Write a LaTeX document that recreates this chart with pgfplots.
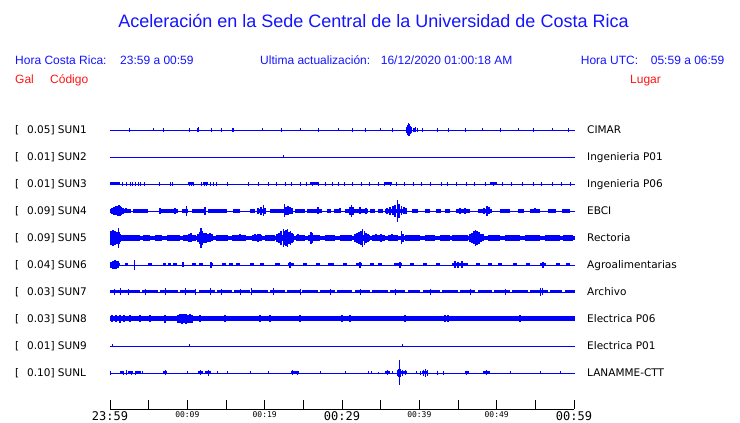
\documentclass[border=0pt]{standalone}
\usepackage{pgfplots}
\pgfplotsset{compat=1.18}
\usepackage{fontspec}
\setmainfont{DejaVu Sans}
\newfontfamily\hdr{Liberation Sans}
\newfontfamily\monof{DejaVu Sans Mono}
\definecolor{tblue}{RGB}{0,0,255}
\definecolor{hblue}{RGB}{20,20,255}
\definecolor{hred}{RGB}{255,20,20}
\newcommand\bigt[1]{{\fontsize{12}{12}\selectfont #1}}
\newcommand\smt[1]{{\fontsize{8}{8}\selectfont #1}}
\pgfplotsset{
  spk/.style={draw=none, mark=none, forget plot,
    error bars/y dir=both, error bars/y explicit, error bars/error mark=none,
    error bars/error bar style={draw=tblue, solid, line width=#1}},
  spk/.default=0.9pt,
  dsh/.style={draw=none, mark=none, forget plot,
    error bars/x dir=both, error bars/x explicit, error bars/error mark=none,
    error bars/error bar style={draw=tblue, solid, line width=#1}},
  base/.style={tblue, line width=#1, no marks},
}
\begin{document}
\begin{tikzpicture}
\useasboundingbox (0,0) rectangle (740pt,423pt);
\begin{axis}[
  at={(110pt,14pt)}, anchor=south west, scale only axis,
  width=464pt, height=299pt,
  xmin=0, xmax=60, ymin=14, ymax=313,
  axis x line=bottom, axis y line=none,
  axis line style={-, black, line width=0.9pt},
  xtick={0,5,...,60},
  xticklabels={\bigt{23:59},{},\smt{00:09},{},\smt{00:19},{},\bigt{00:29},{},\smt{00:39},{},\smt{00:49},{},\bigt{00:59}},
  xtick align=inside, major tick length=9pt,
  tick style={black, line width=0.9pt},
  xticklabel style={font=\monof, anchor=north, inner sep=0pt, yshift=-2pt},
  clip=false,
]
% ---------------- SUN1 (CIMAR) y=293
\addplot[base=0.9pt] coordinates {(0,293) (60.13,293)};
\addplot[dsh=4pt] table[x=t, y expr=293, x error=w, row sep=\\] {t w\\ 38.54 0.3\\ 39.44 0.15\\};
\addplot[spk] table[x=t, y expr=293, y error=a, row sep=\\] {t a\\
2.55 2\\ 5.56 1.5\\ 6.85 2\\ 10.22 2\\ 11.25 2\\ 11.44 2.5\\ 13.06 2\\ 14.35 2\\ 15.78 2\\ 15.97 2\\
19.66 1.5\\ 22.11 2\\ 24.57 1.5\\ 26.90 2\\ 29.48 1.5\\ 31.29 2\\ 32.97 2\\ 34.91 1.5\\ 36.47 2\\
38.29 3\\ 38.41 5\\ 38.54 6.5\\ 38.67 6\\ 38.79 4\\ 38.92 3\\ 39.18 2\\ 39.44 2.5\\ 39.70 2\\
40.44 2\\ 42.29 2\\ 43.71 2\\ 45.91 2\\ 48.10 1.5\\ 50.43 2\\ 52.76 1.5\\ 54.70 2\\ 57.16 1.5\\ 59.22 2\\};
% ---------------- SUN2 (Ingenieria P01) y=266
\addplot[base=0.9pt] coordinates {(0,266) (60.13,266)};
\addplot[spk] table[x=t, y expr=266, y error=a, row sep=\\] {t a\\ 22.37 1.5\\};
% ---------------- SUN3 (Ingenieria P06) y=239
\addplot[base=0.9pt] coordinates {(0,239) (60.13,239)};
\addplot[dsh=3pt] table[x=t, y expr=239, x error=w, row sep=\\] {t w\\
0.65 0.65\\ 10.47 0.32\\ 12.35 0.26\\ 26.38 0.5\\ 35.95 0.5\\ 49.59 0.45\\};
\addplot[spk] table[x=t, y expr=239, y error=a, row sep=\\] {t a\\
1.55 2\\ 2.07 2\\ 2.59 2\\ 2.94 2\\ 3.23 2\\ 3.62 2\\ 3.97 2\\ 4.40 2\\ 6.34 2\\ 7.76 2\\ 8.11 2\\
10.22 2\\ 10.57 2\\ 10.77 2\\ 11.77 2\\ 12.16 2\\ 12.50 2\\ 13.02 2\\ 13.36 2\\ 13.71 2\\ 15.22 2\\ 17.85 2\\
19.14 2\\ 20.43 2\\ 21.47 2\\ 22.63 2\\ 23.41 2\\ 24.57 2\\ 25.35 2\\ 26.12 2\\ 26.90 2\\ 27.80 2\\
28.71 2\\ 29.48 2\\ 30.26 2\\ 31.29 2\\ 32.46 2\\ 33.49 2\\ 34.66 2\\ 35.43 2\\ 36.21 2\\ 36.98 2\\
38.02 2\\ 39.18 2\\ 40.22 2\\ 41.38 2\\ 42.80 2\\ 43.58 2\\ 44.74 2\\ 46.04 2\\ 47.07 2\\ 48.49 2\\
49.53 2\\ 50.69 2\\ 51.86 2\\ 53.28 2\\ 54.70 2\\ 55.73 2\\ 57.16 2\\ 58.32 2\\ 59.48 2\\};
% ---------------- SUN4 (EBCI) y=212
\addplot[base=0.9pt] coordinates {(0,212) (60.13,212)};
\addplot[dsh=4pt] table[x=t, y expr=212, x error=w, row sep=\\] {t w\\
1.36 1.36\\ 3.94 0.97\\ 7.63 1.16\\ 9.70 0.39\\ 11.44 0.84\\ 13.90 1.23\\ 16.36 0.45\\ 18.43 0.32\\
19.57 0.6\\ 21.47 0.78\\ 22.95 0.71\\ 24.57 0.65\\ 26.44 0.97\\ 28.32 0.26\\ 29.35 0.39\\ 31.87 1.49\\
33.94 0.32\\ 34.98 0.32\\ 36.98 1.42\\ 39.44 0.39\\ 41.06 0.32\\ 42.48 0.32\\ 43.64 0.32\\ 45.65 0.91\\
48.49 0.91\\ 51.08 0.65\\ 53.15 0.39\\ 54.96 0.65\\ 57.16 0.52\\ 58.97 0.52\\};
\addplot[spk=1.3pt] table[x=t, y expr=212, y error=a, row sep=\\] {t a\\
0.26 3\\ 0.52 4\\ 0.78 4.5\\ 1.03 5\\ 1.16 5.5\\ 1.29 5\\ 1.42 4\\ 1.68 3\\ 2.07 2.5\\ 6.47 3\\ 8.41 3\\
9.92 5\\ 12.28 4\\ 19.14 3\\ 19.53 4\\ 19.82 5.5\\ 20.04 3\\ 22.54 6.5\\ 22.76 4\\ 23.02 4.5\\ 23.28 3.5\\
23.54 3\\ 26.90 3.5\\ 29.74 2.5\\ 31.03 4\\ 31.25 6\\ 31.42 4\\ 32.33 3.5\\ 33.10 3\\ 35.82 3\\ 36.21 4\\
36.59 4.5\\ 36.85 6\\ 37.15 11\\ 37.37 7\\ 37.72 4.5\\ 38.02 3.5\\ 38.28 3\\ 45.26 3\\ 45.91 3\\ 48.36 3\\
48.75 5\\ 49.01 3.5\\ 54.96 2.5\\};
% ---------------- SUN5 (Rectoria) y=185
\addplot[base=3.5pt] coordinates {(0,185) (60.13,185)};
\addplot[dsh=6pt] table[x=t, y expr=185, x error=w, row sep=\\] {t w\\
0.65 0.65\\ 2.59 1.29\\ 4.72 0.45\\ 6.27 0.45\\ 8.21 0.84\\ 10.28 0.84\\ 12.28 1.03\\ 14.48 0.78\\
16.68 0.91\\ 19.01 0.65\\ 20.69 0.65\\ 22.63 1.16\\ 24.63 0.58\\ 26.38 0.78\\ 28.45 0.65\\ 30.52 0.78\\
32.65 0.97\\ 34.72 0.84\\ 36.59 0.65\\ 39.12 0.97\\ 41.38 0.65\\ 43.32 0.65\\ 45.26 1.03\\ 47.46 0.91\\
49.66 0.78\\ 52.05 0.97\\ 54.64 0.97\\ 57.22 0.97\\ 59.22 0.65\\};
\addplot[spk=1.4pt] table[x=t, y expr=185, y error=a, row sep=\\] {t a\\
0.05 5\\ 0.13 7\\ 0.26 6\\ 0.39 8\\ 0.52 6\\ 0.65 7\\ 0.78 5\\ 0.91 6\\ 1.07 10\\ 1.16 6\\ 1.29 4\\
10.22 4\\ 10.47 4.5\\ 11.38 4\\ 11.64 6\\ 11.77 10\\ 11.90 7\\ 12.16 5\\ 12.41 5\\ 12.67 4\\ 12.93 4.5\\
13.19 3.5\\ 16.81 3.5\\ 18.75 3.5\\ 19.14 4\\ 19.40 3.5\\ 21.60 4\\ 21.85 5\\ 22.11 7\\ 22.41 9\\
22.56 7\\ 22.76 8\\ 22.95 9\\ 23.15 6\\ 23.34 7\\ 23.54 5\\ 23.73 4\\ 24.31 3.5\\ 25.99 6\\ 26.19 5\\
31.68 4\\ 31.94 5\\ 32.20 6\\ 32.46 7\\ 32.68 9\\ 32.91 7\\ 33.10 5\\ 33.36 4\\ 34.40 3.5\\ 35.04 4\\
36.47 3.5\\ 37.72 6.5\\ 37.89 4\\ 46.55 4\\ 46.81 5\\ 47.07 6.5\\ 47.26 8\\ 47.46 7\\ 47.72 6\\
47.98 4\\ 48.23 3.5\\};
% ---------------- SUN6 (Agroalimentarias) y=158
\addplot[base=0.9pt] coordinates {(0,158) (60.13,158)};
\addplot[dsh=3pt] table[x=t, y expr=158, x error=w, row sep=\\] {t w\\
0.65 0.65\\ 2.13 0.19\\ 5.17 0.26\\ 7.05 0.19\\ 7.69 0.19\\ 8.41 0.26\\ 9.44 0.13\\ 10.86 0.26\\
11.77 0.26\\ 13.13 0.19\\ 14.74 0.26\\ 15.65 0.26\\ 16.55 0.26\\ 18.36 0.2\\ 19.66 0.2\\ 21.66 0.3\\
23.41 0.39\\ 25.22 0.2\\ 26.90 0.2\\ 28.58 0.39\\ 30.39 0.2\\ 32.20 0.39\\ 33.88 0.2\\ 34.91 0.2\\
37.24 0.52\\ 39.05 0.2\\ 40.73 0.2\\ 42.41 0.2\\ 45.26 1.03\\ 47.59 0.2\\ 49.14 0.2\\ 50.43 0.2\\
52.37 0.2\\ 54.05 0.2\\ 55.99 0.39\\ 57.93 0.2\\ 59.22 0.2\\};
\addplot[spk=1.2pt] table[x=t, y expr=158, y error=a, row sep=\\] {t a\\
0.13 3\\ 0.39 4\\ 0.65 4.5\\ 0.87 4\\ 1.03 3.5\\ 3.14 5\\ 9.44 2.5\\ 13.06 3\\ 23.28 3\\ 32.33 3\\
37.50 3\\ 44.61 3.5\\ 45.00 3\\ 45.52 3.5\\ 55.99 3\\};
% ---------------- SUN7 (Archivo) y=131
\addplot[base=0.9pt] coordinates {(0,131) (60.13,131)};
\addplot[dsh=3pt] table[x=t, y expr=131, x error=w, row sep=\\] {t w\\
1.94 1.94\\ 5.17 1.03\\ 7.63 1.16\\ 10.09 1.03\\ 12.54 1.03\\ 14.81 0.97\\ 17.07 1.03\\ 19.40 1.03\\
21.66 0.97\\ 23.73 0.84\\ 25.86 1.03\\ 28.13 0.97\\ 30.32 0.97\\ 32.65 0.97\\ 34.91 1.03\\ 37.18 0.97\\
39.31 0.78\\ 41.57 1.10\\ 43.97 1.03\\ 46.23 0.97\\ 48.49 0.91\\ 50.69 1.03\\ 53.02 1.03\\ 55.47 1.16\\
57.67 0.78\\ 59.48 0.65\\};
\addplot[spk] table[x=t, y expr=131, y error=a, row sep=\\] {t a\\
0.52 3\\ 1.29 3.5\\ 2.33 3\\ 4.53 3\\ 7.11 3.5\\ 9.70 3.5\\ 10.99 3\\ 12.93 3.5\\ 14.44 3\\ 16.81 3\\
18.32 3.5\\ 21.12 3.5\\ 24.57 3\\ 28.45 3\\ 32.33 3\\ 36.85 3\\ 41.38 3\\ 46.55 3\\ 51.08 3\\ 55.60 4\\
55.86 3.5\\};
% ---------------- SUN8 (Electrica P06) y=104
\addplot[base=5pt] coordinates {(0,104) (60.13,104)};
\addplot[spk=1.2pt] table[x=t, y expr=104, y error=a, row sep=\\] {t a\\
0.26 3.5\\ 0.78 3.5\\ 1.29 4\\ 1.81 3.5\\ 2.59 3.5\\ 3.88 3.5\\ 5.17 3.5\\ 7.11 4\\ 8.79 4\\ 9.05 4.5\\
9.31 5\\ 9.57 4.5\\ 9.83 5\\ 10.09 4\\ 10.34 4.5\\ 10.60 4\\ 11.64 3.5\\ 14.87 3.5\\ 19.40 3.5\\
20.69 3.5\\ 24.57 3.5\\ 30.00 3.5\\ 31.03 3.5\\ 38.15 3.5\\ 43.32 3.5\\ 43.71 3.5\\ 53.02 3.5\\};
% ---------------- SUN9 (Electrica P01) y=77
\addplot[base=0.9pt] coordinates {(0,77) (60.13,77)};
\addplot[spk] table[x=t, y expr=77, y error=a, row sep=\\] {t a\\ 0.35 1.5\\ 10.25 1.5\\ 37.76 1.5\\};
% ---------------- SUNL (LANAMME-CTT) y=50
\addplot[base=0.9pt] coordinates {(0,50) (60.13,50)};
\addplot[dsh=3pt] table[x=t, y expr=50, x error=w, row sep=\\] {t w\\
1.55 0.26\\ 2.65 0.32\\ 3.69 0.32\\ 7.11 0.26\\ 11.70 0.32\\ 12.67 0.39\\ 23.92 0.52\\ 35.88 0.32\\
37.44 0.36\\ 38.15 0.26\\ 40.73 0.43\\ 46.16 0.26\\ 48.68 0.45\\};
\addplot[spk] table[x=t, y expr=50, y error=a, row sep=\\] {t a\\
0.05 2\\ 1.68 2\\ 2.07 2.5\\ 2.72 2\\ 3.23 2\\ 4.14 1.5\\ 7.11 2.5\\ 9.96 1.5\\ 11.64 2.5\\ 12.67 3\\
13.84 1.5\\ 15.13 1.5\\ 18.10 1.5\\ 20.43 1.5\\ 23.54 2.5\\ 24.18 2\\ 27.16 1.5\\ 30.39 1.5\\ 33.40 1.5\\
33.84 1.5\\ 34.70 1.2\\ 35.82 2.5\\ 36.56 1.5\\ 37.11 3\\ 37.24 4\\ 37.41 12.5\\ 37.56 4\\ 37.76 3\\
38.15 2.5\\ 39.57 1.5\\ 40.09 2\\ 40.47 3\\ 40.73 3.7\\ 40.99 3\\ 42.32 2\\ 43.06 2\\ 46.10 2\\
48.62 2.5\\ 51.72 1.5\\ 55.60 1.5\\ 58.19 1.5\\};
\end{axis}
% ---------------- header text
\node[anchor=base, inner sep=0pt, text=hblue, font=\hdr\fontsize{18}{18}\selectfont] at (373.5pt,395pt)
  {Aceleración en la Sede Central de la Universidad de Costa Rica};
\begin{scope}[every node/.style={anchor=base west, inner sep=0pt, font=\hdr\fontsize{12}{12}\selectfont}]
\node[text=hblue] at (15pt,358pt) {Hora Costa Rica:};
\node[text=hblue] at (120pt,358pt) {23:59 a 00:59};
\node[text=hblue] at (260pt,358pt) {Ultima actualización:};
\node[text=hblue] at (380.7pt,358pt) {16/12/2020 01:00:18 AM};
\node[text=hblue] at (580.7pt,358pt) {Hora UTC:};
\node[text=hblue] at (650.7pt,358pt) {05:59 a 06:59};
\node[text=hred] at (15pt,339pt) {Gal};
\node[text=hred] at (50pt,339pt) {Código};
\node[text=hred] at (630pt,339pt) {Lugar};
\end{scope}
% ---------------- station labels
\begin{scope}[every node/.style={anchor=base west, inner sep=0pt, font=\fontsize{10.5}{10.5}\selectfont}]
\node at (15pt,289pt) {[}; \node at (27pt,289pt) {0.05] SUN1}; \node at (587pt,289pt) {CIMAR};
\node at (15pt,262pt) {[}; \node at (27pt,262pt) {0.01] SUN2}; \node at (587pt,262pt) {Ingenieria P01};
\node at (15pt,235pt) {[}; \node at (27pt,235pt) {0.01] SUN3}; \node at (587pt,235pt) {Ingenieria P06};
\node at (15pt,208pt) {[}; \node at (27pt,208pt) {0.09] SUN4}; \node at (587pt,208pt) {EBCI};
\node at (15pt,181pt) {[}; \node at (27pt,181pt) {0.09] SUN5}; \node at (587pt,181pt) {Rectoria};
\node at (15pt,154pt) {[}; \node at (27pt,154pt) {0.04] SUN6}; \node at (587pt,154pt) {Agroalimentarias};
\node at (15pt,127pt) {[}; \node at (27pt,127pt) {0.03] SUN7}; \node at (587pt,127pt) {Archivo};
\node at (15pt,100pt) {[}; \node at (27pt,100pt) {0.03] SUN8}; \node at (587pt,100pt) {Electrica P06};
\node at (15pt,73pt) {[}; \node at (27pt,73pt) {0.01] SUN9}; \node at (587pt,73pt) {Electrica P01};
\node at (15pt,46pt) {[}; \node at (27pt,46pt) {0.10] SUNL}; \node at (587pt,46pt) {LANAMME-CTT};
\end{scope}
\end{tikzpicture}
\end{document}
